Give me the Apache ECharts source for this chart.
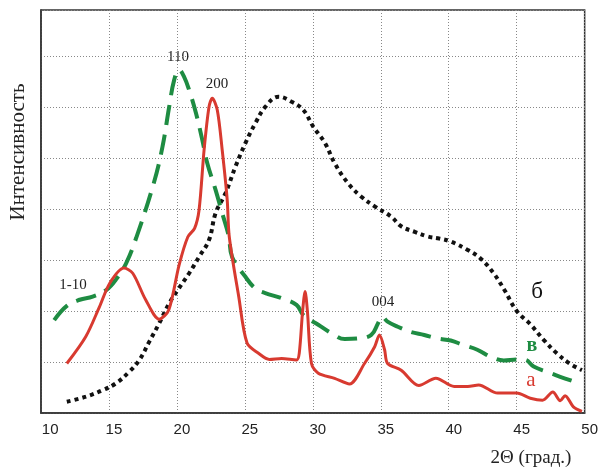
<!DOCTYPE html>
<html>
<head>
<meta charset="utf-8">
<script src="https://cdn.jsdelivr.net/npm/echarts@6/dist/echarts.min.js"></script>
<style>
  html, body { margin: 0; padding: 0; background: #fff; }
  #chart { width: 601px; height: 468px; }
</style>
</head>
<body>
<div id="chart"></div>
<script>
// x ticks (2Θ, degrees)
var xTicks = [10, 15, 20, 25, 30, 35, 40, 45, 50];

// curve "а" (red, solid)
var curveA = [
  [11.9, 0.97], [13.3, 1.50], [14.3, 2.08], [15.05, 2.54], [16.1, 2.84], [16.75, 2.74],
  [17.7, 2.22], [18.7, 1.84], [19.4, 2.02], [20.16, 2.90], [20.8, 3.45], [21.3, 3.62],
  [21.63, 3.98], [22.0, 5.16], [22.36, 6.0], [22.6, 6.17], [22.97, 5.94], [23.33, 5.16],
  [23.7, 4.18], [23.85, 3.46], [24.55, 2.28], [25.16, 1.37], [26.0, 1.17], [26.8, 1.05],
  [27.7, 1.07], [28.8, 1.04], [29.0, 1.17], [29.25, 2.0], [29.43, 2.38], [29.6, 2.0],
  [29.9, 0.97], [30.4, 0.78], [31.6, 0.68], [32.7, 0.57], [33.8, 0.97], [34.55, 1.30],
  [34.9, 1.53], [35.28, 1.24], [35.5, 0.97], [36.5, 0.84], [37.8, 0.54], [39.05, 0.68],
  [40.4, 0.52], [41.4, 0.52], [42.2, 0.55], [43.6, 0.39], [45.0, 0.39], [46.0, 0.29],
  [46.9, 0.25], [47.66, 0.41], [48.2, 0.24], [48.56, 0.34], [49.17, 0.12], [49.8, 0.03]
];

// curve "в" (green, dashed)
var curveB = [
  [10.97, 1.82], [11.9, 2.10], [12.85, 2.22], [13.8, 2.28], [14.8, 2.41], [15.5, 2.61],
  [16.27, 2.94], [17.0, 3.43], [18.29, 4.5], [18.94, 5.22], [19.43, 6.0], [19.8, 6.53],
  [20.16, 6.73], [20.53, 6.59], [20.9, 6.33], [21.4, 5.88], [21.87, 5.35], [22.23, 4.9],
  [22.85, 4.37], [23.33, 3.92], [23.82, 3.46], [24.06, 3.06], [25.04, 2.67], [25.77, 2.44],
  [26.5, 2.35], [27.7, 2.25], [28.8, 2.12], [29.3, 1.92], [30.4, 1.73], [31.4, 1.56],
  [32.35, 1.45], [33.3, 1.46], [34.3, 1.53], [34.8, 1.76], [35.1, 1.89], [35.5, 1.79],
  [36.25, 1.69], [37.2, 1.59], [38.2, 1.53], [39.2, 1.46], [40.15, 1.42], [41.1, 1.33],
  [42.1, 1.24], [43.1, 1.10], [44.05, 1.03], [45.0, 1.05], [45.64, 1.04], [46.25, 0.91],
  [47.2, 0.81], [48.2, 0.71], [49.3, 0.61]
];

// curve "б" (black, dotted)
var curveC = [
  [11.9, 0.22], [13.3, 0.32], [14.56, 0.45], [15.5, 0.58], [16.5, 0.81], [17.24, 1.04],
  [17.97, 1.40], [18.7, 1.76], [19.43, 2.15], [20.16, 2.45], [20.9, 2.74], [21.63, 3.06],
  [22.36, 3.39], [22.85, 3.92], [23.58, 4.31], [24.31, 4.83], [25.04, 5.29], [25.77, 5.68],
  [26.5, 6.0], [27.48, 6.2], [28.45, 6.10], [29.3, 5.94], [30.04, 5.61], [30.9, 5.29],
  [31.6, 4.90], [32.6, 4.50], [33.57, 4.24], [34.55, 4.05], [35.76, 3.85], [36.5, 3.66],
  [37.5, 3.55], [38.45, 3.46], [39.3, 3.42], [40.15, 3.36], [41.37, 3.20], [42.34, 3.03],
  [43.3, 2.74], [44.1, 2.41], [45.0, 2.0], [46.0, 1.74], [47.0, 1.43], [47.95, 1.17],
  [48.9, 0.97], [49.8, 0.84]
];

var chart = echarts.init(document.getElementById('chart'));

chart.setOption({
  backgroundColor: '#fff',
  animation: false,
  grid: {
    left: 41, right: 13, top: 10, bottom: 55,
    show: true, borderColor: '#333', borderWidth: 1.5
  },
  xAxis: {
    type: 'value',
    min: xTicks[0], max: xTicks[xTicks.length - 1], interval: 5,
    axisLine: { show: true, onZero: false, lineStyle: { color: '#333', width: 1.5 } },
    axisTick: { show: false },
    axisLabel: {
      color: '#222', fontSize: 15, fontFamily: 'Liberation Sans, Arial', margin: 9,
      padding: [0, 0, 0, 10],
      formatter: function (v) { return v === 10 ? '  10' : String(v); }
    },
    splitLine: { show: true, lineStyle: { color: '#888', type: [1, 2], width: 1 } }
  },
  yAxis: {
    type: 'value',
    min: 0, max: 7.9, interval: 1,
    axisLine: { show: true, lineStyle: { color: '#333', width: 1.5 } },
    axisTick: { show: false },
    axisLabel: { show: false },
    splitLine: { show: true, lineStyle: { color: '#888', type: [1, 2], width: 1 } }
  },
  series: [
    {
      name: 'б', type: 'line', data: curveC, smooth: 0.4, symbol: 'none',
      lineStyle: { color: '#111', width: 4, type: [4, 4], cap: 'butt' }
    },
    {
      name: 'в', type: 'line', data: curveB, smooth: 0.4, symbol: 'none',
      lineStyle: { color: '#1e8c42', width: 4, type: [20, 10], cap: 'butt' }
    },
    {
      name: 'а', type: 'line', data: curveA, smooth: 0.3, symbol: 'none',
      lineStyle: { color: '#d83a30', width: 3 }
    }
  ],
  graphic: [
    {
      type: 'text', x: 18, y: 152, rotation: Math.PI / 2,
      style: { text: 'Интенсивность', fill: '#222', font: '21px "Liberation Serif", "Times New Roman", serif', textAlign: 'center', textVerticalAlign: 'middle' }
    },
    {
      type: 'text', x: 531, y: 458,
      style: { text: '2Θ (град.)', fill: '#222', font: '19px "Liberation Serif", "Times New Roman", serif', textAlign: 'center', textVerticalAlign: 'middle' }
    },
    { type: 'text', x: 178, y: 57, style: { text: '110', fill: '#222', font: '15px "Liberation Serif", serif', textAlign: 'center', textVerticalAlign: 'middle' } },
    { type: 'text', x: 217, y: 84, style: { text: '200', fill: '#222', font: '15px "Liberation Serif", serif', textAlign: 'center', textVerticalAlign: 'middle' } },
    { type: 'text', x: 73, y: 285, style: { text: '1-10', fill: '#222', font: '15px "Liberation Serif", serif', textAlign: 'center', textVerticalAlign: 'middle' } },
    { type: 'text', x: 383, y: 302, style: { text: '004', fill: '#222', font: '15px "Liberation Serif", serif', textAlign: 'center', textVerticalAlign: 'middle' } },
    { type: 'text', x: 537, y: 292, style: { text: 'б', fill: '#111', font: '23px "Liberation Serif", serif', textAlign: 'center', textVerticalAlign: 'middle' } },
    { type: 'text', x: 532, y: 346, style: { text: 'в', fill: '#1e8c42', font: 'bold 20px "Liberation Serif", serif', textAlign: 'center', textVerticalAlign: 'middle' } },
    { type: 'text', x: 531, y: 380, style: { text: 'а', fill: '#d83a30', font: '21px "Liberation Serif", serif', textAlign: 'center', textVerticalAlign: 'middle' } }
  ]
});
</script>
</body>
</html>
